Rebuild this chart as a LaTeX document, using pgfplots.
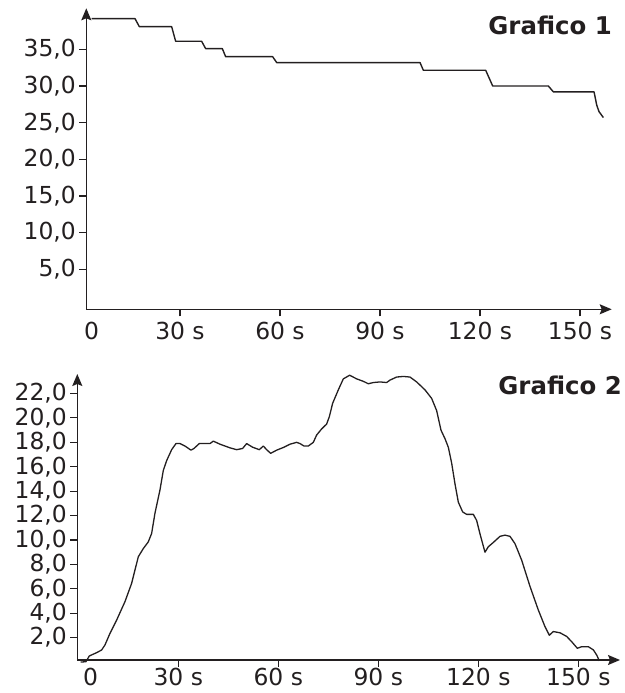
\documentclass[border=0pt]{standalone}
\usepackage{fontspec}
\setmainfont{DejaVu Sans}
\usepackage{pgfplots}
\pgfplotsset{compat=1.18}
\usetikzlibrary{arrows.meta}
\definecolor{ink}{RGB}{35,31,32}

\pgfplotstableread{
x y
3.5 39.2
16.5 39.2
17.8 38.1
27.5 38.1
28.7 36.1
36.5 36.1
37.7 35.1
42.7 35.1
43.7 34.0
57.8 34.0
59.0 33.2
102.0 33.2
103.0 32.15
121.7 32.15
123.8 30.0
140.5 30.0
142.0 29.2
154.2 29.2
154.5 28.55
155.0 27.4
155.7 26.5
157.0 25.7
}\tableone

\pgfplotstableread{
x y
0.7 0.0
2.3 0.03
3.3 0.5
5.5 0.77
7.0 0.99
8.0 1.4
9.5 2.35
11.5 3.44
14.0 4.95
16.0 6.45
17.0 7.54
18.0 8.63
19.5 9.3
21.0 9.85
22.0 10.54
23.0 12.2
24.5 14.1
25.5 15.7
26.5 16.5
28.0 17.4
29.3 17.9
30.5 17.9
32.0 17.7
33.8 17.36
34.7 17.5
36.3 17.9
38.5 17.9
39.5 17.9
40.5 18.1
42.5 17.85
45.5 17.55
47.5 17.4
49.3 17.5
50.5 17.9
52.3 17.6
54.3 17.4
55.5 17.7
56.5 17.4
57.7 17.1
59.5 17.36
61.7 17.6
63.5 17.85
65.5 18.0
66.5 17.9
67.7 17.7
69.0 17.7
70.5 18.0
71.5 18.6
73.0 19.1
74.5 19.5
75.3 20.1
76.3 21.2
78.0 22.3
79.5 23.2
81.4 23.5
83.5 23.2
85.5 23.0
87.0 22.8
88.5 22.9
90.5 22.95
92.5 22.9
93.5 23.1
95.5 23.35
97.5 23.4
99.5 23.35
101.5 22.95
104.0 22.3
106.0 21.6
107.5 20.6
108.8 19.0
110.0 18.3
111.0 17.6
112.0 16.3
113.0 14.6
114.0 13.1
115.3 12.3
116.5 12.1
118.5 12.1
119.5 11.6
120.5 10.5
122.0 9.0
123.0 9.45
124.5 9.8
125.5 10.05
126.5 10.3
128.0 10.4
129.5 10.3
131.0 9.7
133.0 8.35
135.5 6.2
138.0 4.26
140.0 2.9
141.3 2.2
142.5 2.5
144.5 2.4
146.5 2.1
148.0 1.67
149.7 1.13
151.0 1.26
153.0 1.26
154.5 1.0
155.5 0.58
156.3 0.11
}\tabletwo

\pgfplotsset{
  mystyle/.style={
    scale only axis, axis lines*=left, clip=false,
    axis line style={ink, line width=1.3bp, -{Stealth[length=12bp,width=10bp,inset=2bp]}},
    tick align=outside, major tick length=7bp,
    tick style={ink, line width=1.1bp},
    ticklabel style={font=\fontsize{23.5}{27}\selectfont, text=ink},
    xtick={30,60,90,120,150},
    xticklabels={30 s,60 s,90 s,120 s,150 s},
    minor tick num=0,
    extra x tick style={tick style={draw=none}},
    extra x tick labels={0},
  }
}

\begin{document}
\begin{tikzpicture}
\useasboundingbox (0,0) rectangle (625bp,693bp);
\begin{axis}[mystyle, at={(86.3bp,383.7bp)}, anchor=south west,
  width=525.4bp, height=301bp,
  xmin=1.9, xmax=159.5, ymin=-0.45, ymax=40.6,
  extra x ticks={3.5},
  xticklabel style={yshift=-2bp},
  ytick={5,10,15,20,25,30,35},
  yticklabels={{5,0},{10,0},{15,0},{20,0},{25,0},{30,0},{35,0}}]
\addplot[ink, line width=1.4bp, line join=round] table[x=x,y=y] {\tableone};
\end{axis}
\node[anchor=base east, inner sep=0pt, font=\bfseries\fontsize{24.5}{28}\selectfont, text=ink] at (612bp,658bp) {Grafico 1};

\begin{axis}[mystyle, at={(77.3bp,33bp)}, anchor=south west,
  width=542.7bp, height=286bp,
  xmin=-0.3, xmax=162.5, ymin=0.17, ymax=23.6,
  extra x ticks={3.7},
  xticklabel style={inner sep=1bp},
  ytick={2,4,6,8,10,12,14,16,18,20,22},
  yticklabels={{2,0},{4,0},{6,0},{8,0},{10,0},{12,0},{14,0},{16,0},{18,0},{20,0},{22,0}}]
\addplot[ink, line width=1.3bp, line join=round] table[x=x,y=y] {\tabletwo};
\end{axis}
\node[anchor=base east, inner sep=0pt, font=\bfseries\fontsize{24.5}{28}\selectfont, text=ink] at (622bp,298bp) {Grafico 2};
\end{tikzpicture}
\end{document}
